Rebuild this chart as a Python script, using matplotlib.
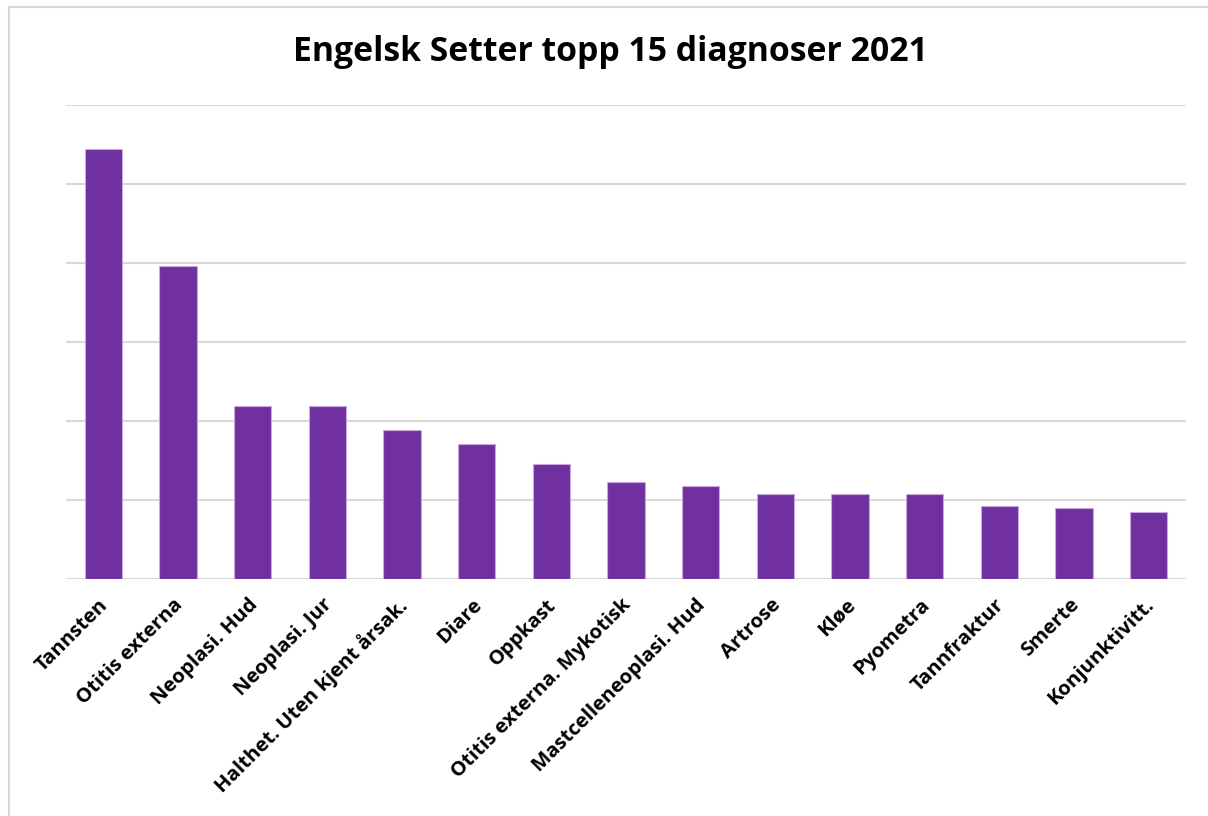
import matplotlib
matplotlib.use("Agg")
import matplotlib.pyplot as plt
from matplotlib.lines import Line2D
from matplotlib.transforms import ScaledTranslation

categories = ["Tannsten", "Otitis externa", "Neoplasi. Hud", "Neoplasi. Jur",
              "Halthet. Uten kjent årsak.", "Diare", "Oppkast",
              "Otitis externa. Mykotisk", "Mastcelleneoplasi. Hud", "Artrose",
              "Kløe", "Pyometra", "Tannfraktur", "Smerte", "Konjunktivitt."]
values = [54.4, 39.6, 21.9, 21.9, 18.9, 17.1, 14.6, 12.3, 11.8, 10.8,
          10.8, 10.8, 9.2, 9.0, 8.5]
title = "Engelsk Setter topp 15 diagnoser 2021"

plt.rcParams['font.family'] = ['Open Sans', 'DejaVu Sans']

W, H = 1208, 816
fig = plt.figure(figsize=(W / 100, H / 100), dpi=100)
ax = fig.add_axes([66 / W, 1 - 579 / H, (1186 - 66) / W, (579 - 105) / H])

x = list(range(len(categories)))
ax.bar(x, values, width=0.5, color="#7030A0", edgecolor="#c9a8e0", linewidth=0.8, zorder=3)
ax.set_xlim(-0.5, len(categories) - 0.5)
ax.set_ylim(0, 60)
ax.set_yticks(range(0, 61, 10))
ax.yaxis.grid(True, color="#d9d9d9", linewidth=1.5, zorder=0)
ax.tick_params(axis='y', left=False, labelleft=False)
ax.tick_params(axis='x', bottom=False, pad=8)
for s in ax.spines.values():
    s.set_visible(False)
ax.set_xticks(x)
ax.set_xticklabels(categories, rotation=45, ha='right', rotation_mode='anchor',
                   fontsize=14.6, fontweight='bold')
offset = ScaledTranslation(-5 / 100, 0, fig.dpi_scale_trans)
for lbl in ax.get_xticklabels():
    lbl.set_transform(lbl.get_transform() + offset)

fig.text(610 / W, 1 - 52 / H, title, ha='center', va='center',
         fontsize=24.3, fontweight='bold')

# chart outline (top and left only visible)
fig.add_artist(Line2D([9 / W, 9 / W], [0, 1 - 7 / H], transform=fig.transFigure,
                      color="#d9d9d9", linewidth=1.5))
fig.add_artist(Line2D([9 / W, 1], [1 - 7 / H, 1 - 7 / H], transform=fig.transFigure,
                      color="#d9d9d9", linewidth=1.5))

fig.savefig("out.png", dpi=100)
